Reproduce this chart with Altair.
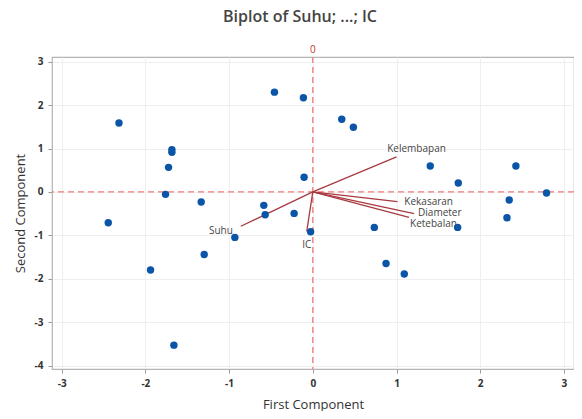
import altair as alt
import pandas as pd

# Scores (first / second component)
pc1 = [-2.315, -0.458, -0.112, -1.683, -1.683, -1.723, -1.759, -1.333, -2.443,
       -0.585, -0.569, -0.223, -0.931, -1.297, -1.938, -1.659, -0.104, -0.026,
       0.346, 0.485, 1.403, 1.738, 2.426, 2.792, 2.346, 2.319, 0.735, 0.875,
       1.093, 1.730]
pc2 = [1.59, 2.30, 2.17, 0.976, 0.913, 0.567, -0.055, -0.231, -0.708,
       -0.309, -0.524, -0.494, -1.047, -1.44, -1.80, -3.53, 0.337, -0.916,
       1.675, 1.49, 0.60, 0.208, 0.60, -0.023, -0.185, -0.593, -0.817, -1.647,
       -1.89, -0.817]

# Loading vectors
var_names = ["Kelembapan", "Kekasaran", "Diameter", "Ketebalan", "Suhu", "IC"]
var_x = [1.00, 1.01, 1.21, 1.15, -0.86, -0.072]
var_y = [0.807, -0.224, -0.50, -0.585, -0.79, -0.91]

x_ticks = [-3, -2, -1, 0, 1, 2, 3]
y_ticks = [-4, -3, -2, -1, 0, 1, 2, 3]
x_dom = [-3.115, 3.12]
y_dom = [-4.08, 3.11]

scores = pd.DataFrame({"pc1": pc1, "pc2": pc2})
vec = pd.DataFrame({"name": var_names, "vx": var_x, "vy": var_y,
                    "ox": [0.0] * len(var_names), "oy": [0.0] * len(var_names)})

FONT = "Open Sans"
xs = alt.Scale(domain=x_dom, nice=False, zero=False)
ys = alt.Scale(domain=y_dom, nice=False, zero=False)

x_axis = alt.Axis(values=x_ticks, title="First Component", grid=True,
                  gridColor="#efefef", domain=False, tickColor="#9a9a9a",
                  tickSize=4, labelFontSize=10, labelColor="#333",
                  labelFontWeight="bold", titleFontSize=13, titleColor="#333",
                  titleFontWeight="normal", titlePadding=10, labelPadding=5,
                  labelExpr="toString(datum.value)")
y_axis = alt.Axis(values=y_ticks, title="Second Component", grid=True,
                  gridColor="#efefef", domain=False, tickColor="#9a9a9a",
                  tickSize=4, labelFontSize=10, labelColor="#333",
                  labelFontWeight="bold", titleFontSize=13, titleColor="#333",
                  titleFontWeight="normal", titlePadding=7, labelPadding=5,
                  labelExpr="toString(datum.value)")

base_ref = pd.DataFrame({"z": [0]})

vline = alt.Chart(base_ref).mark_rule(color="#f07a7a", strokeDash=[6, 4], strokeWidth=1.3).encode(
    x=alt.X("z:Q", scale=xs, axis=x_axis))
hline = alt.Chart(base_ref).mark_rule(color="#f07a7a", strokeDash=[6, 4], strokeWidth=1.3).encode(
    y=alt.Y("z:Q", scale=ys, axis=y_axis))

vtext = alt.Chart(base_ref).mark_text(color="#c0392b", fontSize=10, font=FONT,
                                      baseline="bottom", dy=-2, clip=False).encode(
    x=alt.X("z:Q", scale=xs), y=alt.value(0), text=alt.Text("z:Q"))
htext = alt.Chart(base_ref).mark_text(color="#c0392b", fontSize=10, font=FONT,
                                      align="left", dx=1, clip=False).encode(
    y=alt.Y("z:Q", scale=ys), x=alt.value(522), text=alt.Text("z:Q"))

points = alt.Chart(scores).mark_circle(size=55, color="#0a55a8", opacity=1).encode(
    x=alt.X("pc1:Q", scale=xs), y=alt.Y("pc2:Q", scale=ys))

vectors = alt.Chart(vec).mark_rule(color="#a83a3f", strokeWidth=1.3).encode(
    x=alt.X("ox:Q", scale=xs), y=alt.Y("oy:Q", scale=ys),
    x2="vx:Q", y2="vy:Q")

label_style = [
    ("Kelembapan", "center", 20, -8),
    ("Kekasaran", "left", 7, 0),
    ("Diameter", "left", 4, -1),
    ("Ketebalan", "left", 1, 7),
    ("Suhu", "right", -8, 5),
    ("IC", "center", 0, 14),
]
labels = []
for nm, al, dx, dy in label_style:
    labels.append(
        alt.Chart(vec).transform_filter(alt.datum.name == nm).mark_text(
            align=al, dx=dx, dy=dy, fontSize=10, font=FONT, color="#444",
            baseline="middle").encode(
            x=alt.X("vx:Q", scale=xs), y=alt.Y("vy:Q", scale=ys), text="name:N"))

chart = alt.layer(vline, hline, vectors, points, *labels, vtext, htext).properties(
    width=522, height=312,
    autosize=alt.AutoSizeParams(type="none"),
    padding={"left": 44, "top": 49, "right": 0, "bottom": 42},
    title=alt.TitleParams("Biplot of Suhu; ...; IC", fontSize=16, font=FONT,
                          fontWeight=600, color="#444", anchor="middle",
                          dx=-13, offset=20),
).configure_view(stroke="#b4b4b4", strokeWidth=1.2).configure_axis(
    labelFont=FONT, titleFont=FONT)

chart.save("out.html", embed_options={"renderer": "svg", "actions": False})
